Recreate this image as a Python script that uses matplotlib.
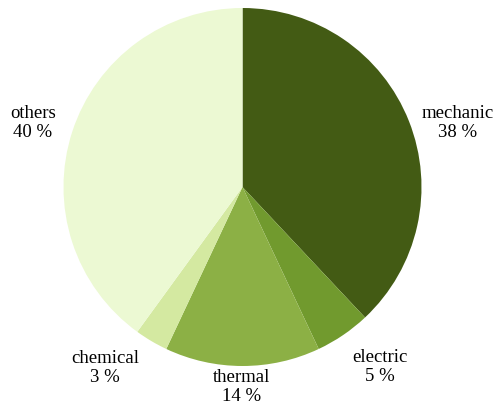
import matplotlib
matplotlib.use("Agg")
import matplotlib.pyplot as plt

categories = ["mechanic", "electric", "thermal", "chemical", "others"]
shares = [38, 5, 14, 3, 40]
colors = ["#435b14", "#719a2e", "#8cb045", "#d4e9a1", "#ecf9d3"]

W, H = 495, 406
# label anchor points (pixels from the top-left of the canvas)
label_xy = [(458, 123), (380, 367), (242, 387), (105, 368), (33, 123)]

fig = plt.figure(figsize=(W / 100, H / 100), dpi=100)
ax = fig.add_axes([0, 0, 1, 1])

ax.pie(shares, colors=colors, startangle=90, counterclock=False,
       center=(242.5, H - 188), radius=179,
       wedgeprops=dict(linewidth=0))
ax.set_xlim(0, W)
ax.set_ylim(0, H)
ax.set_aspect("equal")
ax.axis("off")

for name, val, (x, y) in zip(categories, shares, label_xy):
    ax.text(x, H - y, f"{name}\n{val} %", ha="center", va="center",
            fontsize=13.5, family="Liberation Serif", linespacing=1.15,
            color="#000000")

fig.savefig("out.png", dpi=100)
